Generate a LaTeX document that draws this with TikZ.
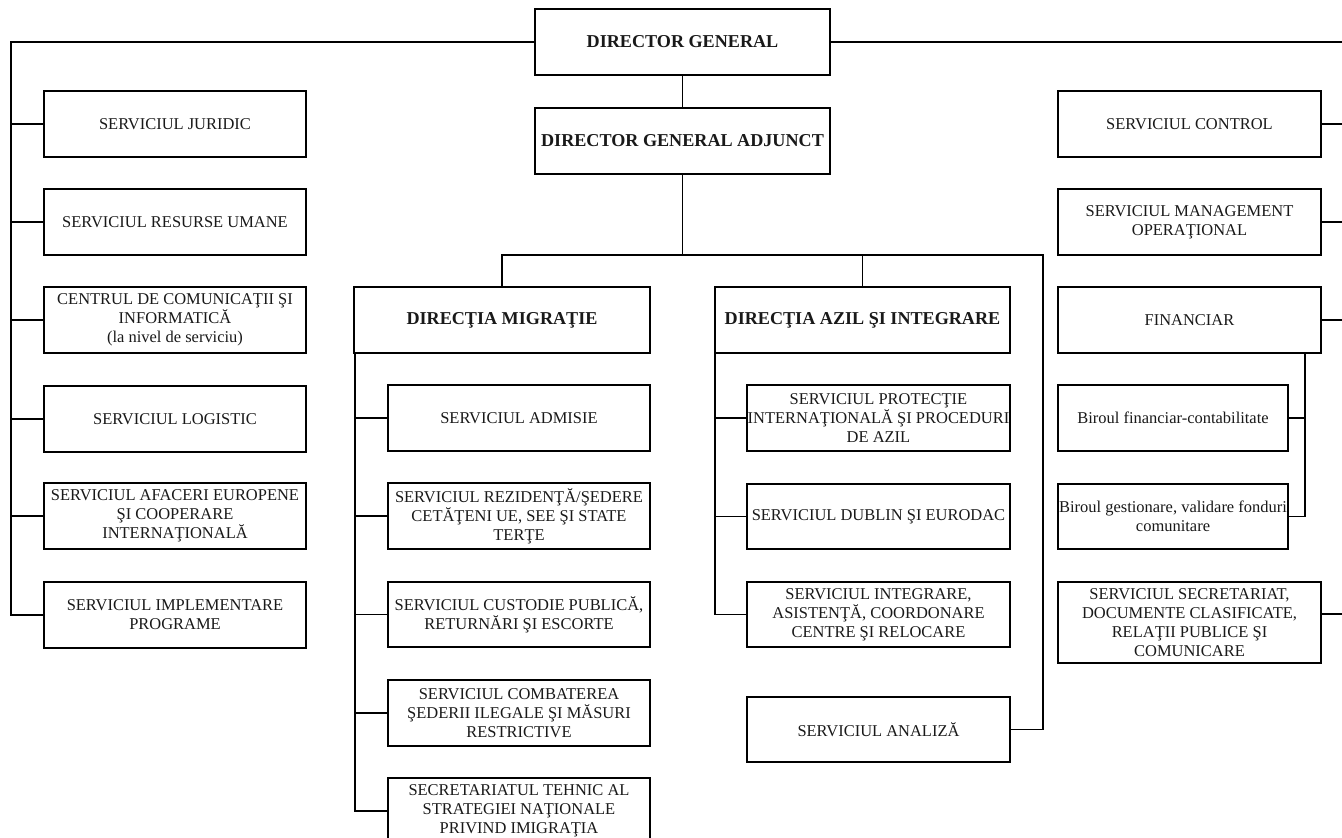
\documentclass[tikz,border=0pt]{standalone}
\usepackage{fontspec}
\setmainfont{Liberation Serif}
\newcommand{\orgbox}[7][]{%
  \node[box,#1,minimum width={(#5-#3)*0.75pt},minimum height={(#6-#4)*0.75pt}] (#2) at ({(#3+#5)/2},{(#4+#6)/2}) {#7};}
\begin{document}
\begin{tikzpicture}[x=0.75pt,y=-0.75pt,line width=1.1pt,
  box/.style={draw,line width=1.1pt,inner sep=0pt,align=center,text=black!90,
    font=\fontsize{12.35}{14.3}\selectfont},
  head/.style={font=\fontsize{13.6}{15}\selectfont\bfseries}]
\fill[white] (0,0) rectangle (1342,838);
\useasboundingbox (0,0) rectangle (1342,838);
% top
\orgbox[head]{dg}{535}{9}{830}{75}{DIRECTOR GENERAL}
\orgbox[head]{dga}{535}{108}{830}{174}{DIRECTOR GENERAL ADJUNCT}
% left column
\orgbox{jur}{44}{91}{306}{157}{SERVICIUL JURIDIC}
\orgbox{rum}{44}{189}{306}{255}{SERVICIUL RESURSE UMANE}
\orgbox{cci}{44}{287}{306}{353}{CENTRUL DE COMUNICAŢII ŞI\\INFORMATICĂ\\(la nivel de serviciu)}
\orgbox{log}{44}{386}{306}{452}{SERVICIUL LOGISTIC}
\orgbox{afe}{44}{483}{306}{549}{SERVICIUL AFACERI EUROPENE\\ŞI COOPERARE\\INTERNAŢIONALĂ}
\orgbox{imp}{44}{582}{306}{648}{SERVICIUL IMPLEMENTARE\\PROGRAME}
% directia migratie
\orgbox[head]{mig}{354}{287}{650}{353}{DIRECŢIA MIGRAŢIE}
\orgbox{adm}{388}{385}{650}{451}{SERVICIUL ADMISIE}
\orgbox{rez}{388}{483}{650}{549}{SERVICIUL REZIDENŢĂ/ŞEDERE\\CETĂŢENI UE, SEE ŞI STATE\\TERŢE}
\orgbox{cus}{388}{582}{650}{647}{SERVICIUL CUSTODIE PUBLICĂ,\\RETURNĂRI ŞI ESCORTE}
\orgbox{com}{388}{680}{650}{746}{SERVICIUL COMBATEREA\\ŞEDERII ILEGALE ŞI MĂSURI\\RESTRICTIVE}
\orgbox{sth}{388}{778}{650}{844}{SECRETARIATUL TEHNIC AL\\STRATEGIEI NAŢIONALE\\PRIVIND IMIGRAŢIA}
% directia azil
\orgbox[head]{azil}{715}{287}{1010}{353}{DIRECŢIA AZIL ŞI INTEGRARE}
\orgbox{pro}{747}{385}{1010}{451}{SERVICIUL PROTECŢIE\\INTERNAŢIONALĂ ŞI PROCEDURI\\DE AZIL}
\orgbox{dub}{747}{484}{1010}{549}{SERVICIUL DUBLIN ŞI EURODAC}
\orgbox{int}{747}{582}{1010}{647}{SERVICIUL INTEGRARE,\\ASISTENŢĂ, COORDONARE\\CENTRE ŞI RELOCARE}
\orgbox{ana}{747}{697}{1010}{762}{SERVICIUL ANALIZĂ}
% right column
\orgbox{ctl}{1058}{91}{1321}{157}{SERVICIUL CONTROL}
\orgbox{mgm}{1058}{189}{1321}{255}{SERVICIUL MANAGEMENT\\OPERAŢIONAL}
\orgbox{fin}{1058}{287}{1321}{353}{FINANCIAR}
\orgbox{bfc}{1058}{385}{1288}{451}{Biroul financiar-contabilitate}
\orgbox{bgv}{1058}{484}{1288}{549}{Biroul gestionare, validare fonduri\\comunitare}
\orgbox{sec}{1058}{582}{1321}{663}{SERVICIUL SECRETARIAT,\\DOCUMENTE CLASIFICATE,\\RELAŢII PUBLICE ŞI\\COMUNICARE}
% coordinates
\coordinate (lbus) at (11,42);
\coordinate (rbus) at (1343,42);
\coordinate (hbus) at (682.5,255);
\coordinate (abus) at (1043,255);
\coordinate (fbus) at (1305,353);
\coordinate (secp) at (1321,614);
\coordinate (mbus) at (355,353);
\coordinate (zbus) at (715,353);
% connectors: top
\draw (dg.west) -- (lbus) |- (imp.west);
\foreach \n in {jur,rum,cci,log,afe} \draw (\n.west) -- (\n.west -| lbus);
\draw (dg.east) -- (rbus) |- (secp);
\foreach \n in {ctl,mgm,fin} \draw (\n.east) -- (\n.east -| rbus);
\draw (dg.south) -- (dga.north);
\draw (dga.south) -- (hbus);
\draw (mig.north) |- (abus) |- (ana.east);
\draw (azil.north) -- (azil.north |- hbus);
% migratie
\draw (mbus) |- (sth.west);
\foreach \n in {adm,rez,cus,com} \draw (\n.west) -- (\n.west -| mbus);
% azil
\draw (zbus) |- (int.west);
\foreach \n in {pro,dub} \draw (\n.west) -- (\n.west -| zbus);
% financiar
\draw (fbus) |- (bgv.east);
\draw (bfc.east) -- (bfc.east -| fbus);
\end{tikzpicture}
\end{document}
